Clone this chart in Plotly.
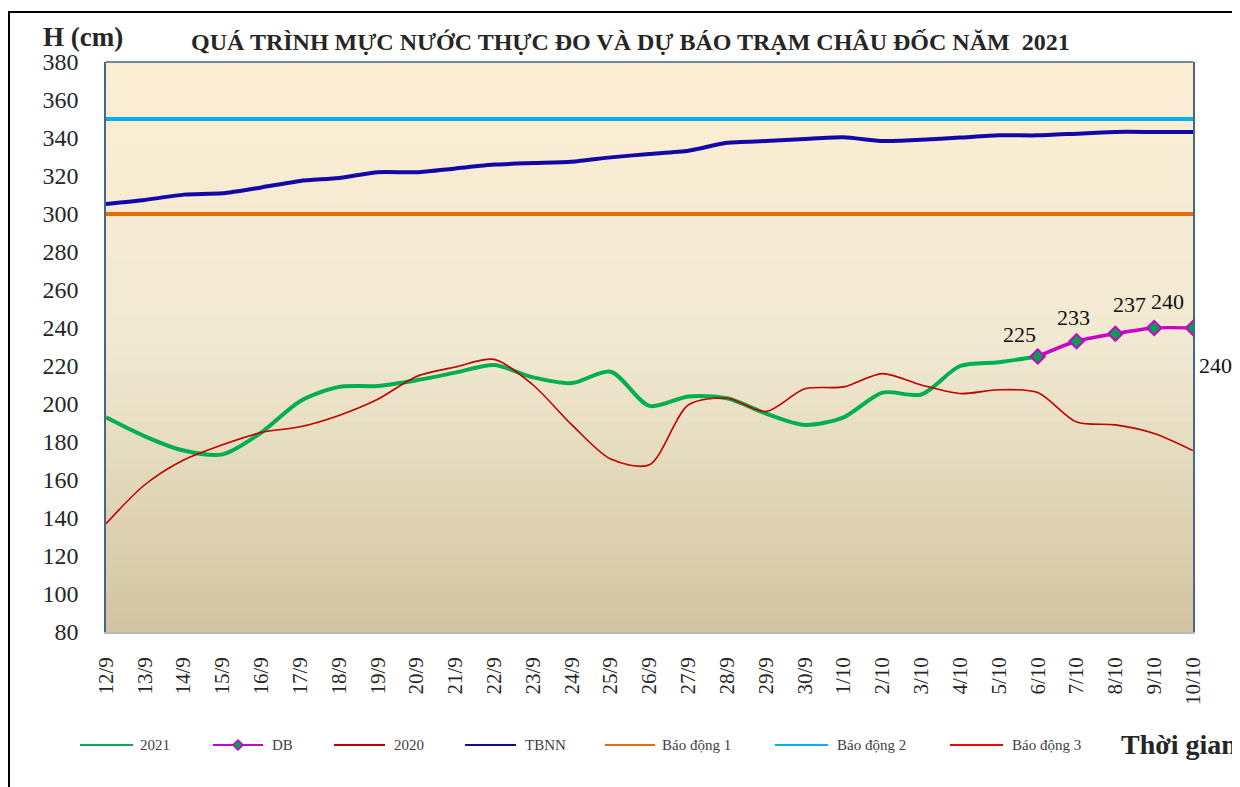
import plotly.graph_objects as go

# ---------------- data ----------------
dates = ["12/9", "13/9", "14/9", "15/9", "16/9", "17/9", "18/9", "19/9", "20/9",
         "21/9", "22/9", "23/9", "24/9", "25/9", "26/9", "27/9", "28/9", "29/9",
         "30/9", "1/10", "2/10", "3/10", "4/10", "5/10", "6/10", "7/10", "8/10",
         "9/10", "10/10"]

h2021 = [193, 183, 175.5, 173.5, 185, 201.5, 209, 209.5, 212.5, 216.5, 220.5,
         214, 211, 217, 199, 204, 203, 195, 189, 193, 206, 205, 220, 222, 225]

db_dates = ["6/10", "7/10", "8/10", "9/10", "10/10"]
db_values = [225, 233, 237, 240, 240]

h2020 = [137, 157.5, 170.5, 178.5, 185, 188, 194, 202.5, 214.5, 219.5, 223.5,
         210, 189, 171, 168, 199.5, 203, 196, 208, 209, 216, 210, 205.5, 207.5,
         206, 190.5, 189, 184.5, 175.5]

tbnn = [305.3, 307.4, 310.2, 310.9, 314, 317.4, 319, 322, 322, 324, 326, 326.8,
        327.5, 329.8, 331.6, 333.3, 337.5, 338.4, 339.5, 340.4, 338.4, 339.1,
        340.2, 341.4, 341.4, 342.3, 343.2, 343.2, 343.2]

bao_dong_1 = 300
bao_dong_2 = 350
bao_dong_3 = 400

y_ticks = [80, 100, 120, 140, 160, 180, 200, 220, 240, 260, 280, 300, 320, 340, 360, 380]

series_names = ["2021", "DB", "2020", "TBNN", "Báo động 1", "Báo động 2", "Báo động 3"]
series_colors = ["#00B050", "#CC00CC", "#C00000", "#1208AA", "#E46C0A", "#00B0F0", "#FF0000"]

# ---------------- layout constants ----------------
OFF = 8  # default page body margin
W, H = 1232, 779
L, R, T, B = 98, 47, 54, 155
PW, PH = W - L - R, H - T - B


def px_x(px):
    """screen x pixel -> paper coordinate"""
    return (px - OFF - L) / PW


def px_y(py):
    """screen y pixel -> paper coordinate"""
    return (H - B - (py - OFF)) / PH


SERIF = "Liberation Serif, Times New Roman, serif"
fig = go.Figure()

fig.add_trace(go.Scatter(x=dates[:len(h2021)], y=h2021, name=series_names[0], mode="lines",
                         line=dict(color=series_colors[0], width=4, shape="spline", smoothing=0.8)))
fig.add_trace(go.Scatter(x=db_dates, y=db_values, name=series_names[1], mode="lines+markers",
                         line=dict(color=series_colors[1], width=3.5, shape="spline", smoothing=0.8),
                         marker=dict(symbol="diamond", size=11, color="#00A050",
                                     line=dict(color=series_colors[1], width=2))))
fig.add_trace(go.Scatter(x=dates, y=h2020, name=series_names[2], mode="lines",
                         line=dict(color=series_colors[2], width=1.6, shape="spline", smoothing=0.8)))
fig.add_trace(go.Scatter(x=dates, y=tbnn, name=series_names[3], mode="lines",
                         line=dict(color=series_colors[3], width=4, shape="spline", smoothing=0.6)))
fig.add_trace(go.Scatter(x=dates, y=[bao_dong_1] * len(dates), name=series_names[4], mode="lines",
                         line=dict(color=series_colors[4], width=4)))
fig.add_trace(go.Scatter(x=dates, y=[bao_dong_2] * len(dates), name=series_names[5], mode="lines",
                         line=dict(color=series_colors[5], width=4)))
fig.add_trace(go.Scatter(x=dates, y=[bao_dong_3] * len(dates), name=series_names[6], mode="lines",
                         line=dict(color=series_colors[6], width=2)))

# data labels for forecast
label_shifts = [(-18, 22), (-3, 24), (14, 29), (13, 27), (22, -37)]
for (xv, yv), (dx, dy) in zip(zip(db_dates, db_values), label_shifts):
    fig.add_annotation(x=xv, y=yv, text=str(yv), showarrow=False, xshift=dx, yshift=dy,
                       font=dict(family=SERIF, size=22, color="#111111"))

# gradient background
top = (252, 238, 211)
mid = (241, 233, 209)
bot = (210, 196, 160)
n = 60
for i in range(n):
    t = (i + 0.5) / n  # 0 at top, 1 at bottom
    if t < 0.5:
        a, b, u = top, mid, t / 0.5
    else:
        a, b, u = mid, bot, (t - 0.5) / 0.5
    c = tuple(round(a[k] + (b[k] - a[k]) * u) for k in range(3))
    fig.add_shape(type="rect", xref="x domain", yref="y domain",
                  x0=0, x1=1, y0=1 - (i + 1) / n, y1=1 - i / n + 0.002,
                  fillcolor="rgb(%d,%d,%d)" % c, line=dict(width=0), layer="below")

# top frame line of plot area
fig.add_shape(type="line", xref="x domain", yref="y domain", x0=0, x1=1, y0=1, y1=1,
              line=dict(color="#44668F", width=1.5))

# outer black frame
fig.add_shape(type="rect", xref="paper", yref="paper", x0=px_x(9), x1=px_x(1252),
              y0=px_y(800), y1=px_y(12), line=dict(color="#000000", width=2), layer="above")

# manual legend (thin line samples like the original)
leg_y = px_y(745)
leg_lines = [(80, 133), (213, 263), (334, 385), (465, 516), (605, 655), (775, 828), (950, 1003)]
leg_text_x = [138, 270, 392, 523, 660, 835, 1010]
for name, col, (x0, x1), tx in zip(series_names, series_colors, leg_lines, leg_text_x):
    fig.add_shape(type="line", xref="paper", yref="paper", x0=px_x(x0), x1=px_x(x1),
                  y0=leg_y, y1=leg_y, line=dict(color=col, width=2))
    fig.add_annotation(xref="paper", yref="paper", x=px_x(tx), y=leg_y, xanchor="left",
                       yanchor="middle", showarrow=False, text=name,
                       font=dict(family=SERIF, size=15, color="#404040"))
# diamond marker in the DB legend sample
cx, cy, d = 238, 745, 5
fig.add_shape(type="path", xref="paper", yref="paper",
              path="M %f,%f L %f,%f L %f,%f L %f,%f Z" % (
                  px_x(cx), px_y(cy - d), px_x(cx + d), px_y(cy),
                  px_x(cx), px_y(cy + d), px_x(cx - d), px_y(cy)),
              fillcolor="#00A050", line=dict(color="#CC00CC", width=1.5))

# titles
fig.add_annotation(xref="paper", yref="paper", x=px_x(630), y=px_y(42), xanchor="center",
                   yanchor="middle", showarrow=False,
                   text="<b>QUÁ TRÌNH MỰC NƯỚC THỰC ĐO VÀ DỰ BÁO TRẠM CHÂU ĐỐC NĂM  2021</b>",
                   font=dict(family=SERIF, size=24, color="#262626"))
fig.add_annotation(xref="paper", yref="paper", x=px_x(83), y=px_y(37), xanchor="center",
                   yanchor="middle", showarrow=False, text="<b>H (cm)</b>",
                   font=dict(family=SERIF, size=27, color="#262626"))
fig.add_annotation(xref="paper", yref="paper", x=px_x(1179), y=px_y(744), xanchor="center",
                   yanchor="middle", showarrow=False, text="<b>Thời gian</b>",
                   font=dict(family=SERIF, size=28, color="#262626"))

fig.update_layout(
    width=W, height=H,
    margin=dict(l=L, r=R, t=T, b=B, autoexpand=False),
    paper_bgcolor="white",
    plot_bgcolor="rgb(252,238,211)",
    showlegend=False,
    font=dict(family=SERIF),
)
fig.update_xaxes(type="category", categoryorder="array", categoryarray=dates,
                 range=[0, len(dates) - 1], tickangle=-90, showgrid=False,
                 showline=True, linecolor="#B4BAC6", linewidth=1.5,
                 tickfont=dict(family=SERIF, size=21, color="#262626"),
                 ticks="", ticklabelstandoff=15, automargin=False)
fig.update_yaxes(range=[80, 380], tickvals=y_ticks, showgrid=False, zeroline=False,
                 showline=True, mirror=True, linecolor="#44668F", linewidth=1.5,
                 tickfont=dict(family=SERIF, size=24, color="#262626"),
                 ticks="", ticklabelstandoff=21, automargin=False)

fig.write_html("out.html")
